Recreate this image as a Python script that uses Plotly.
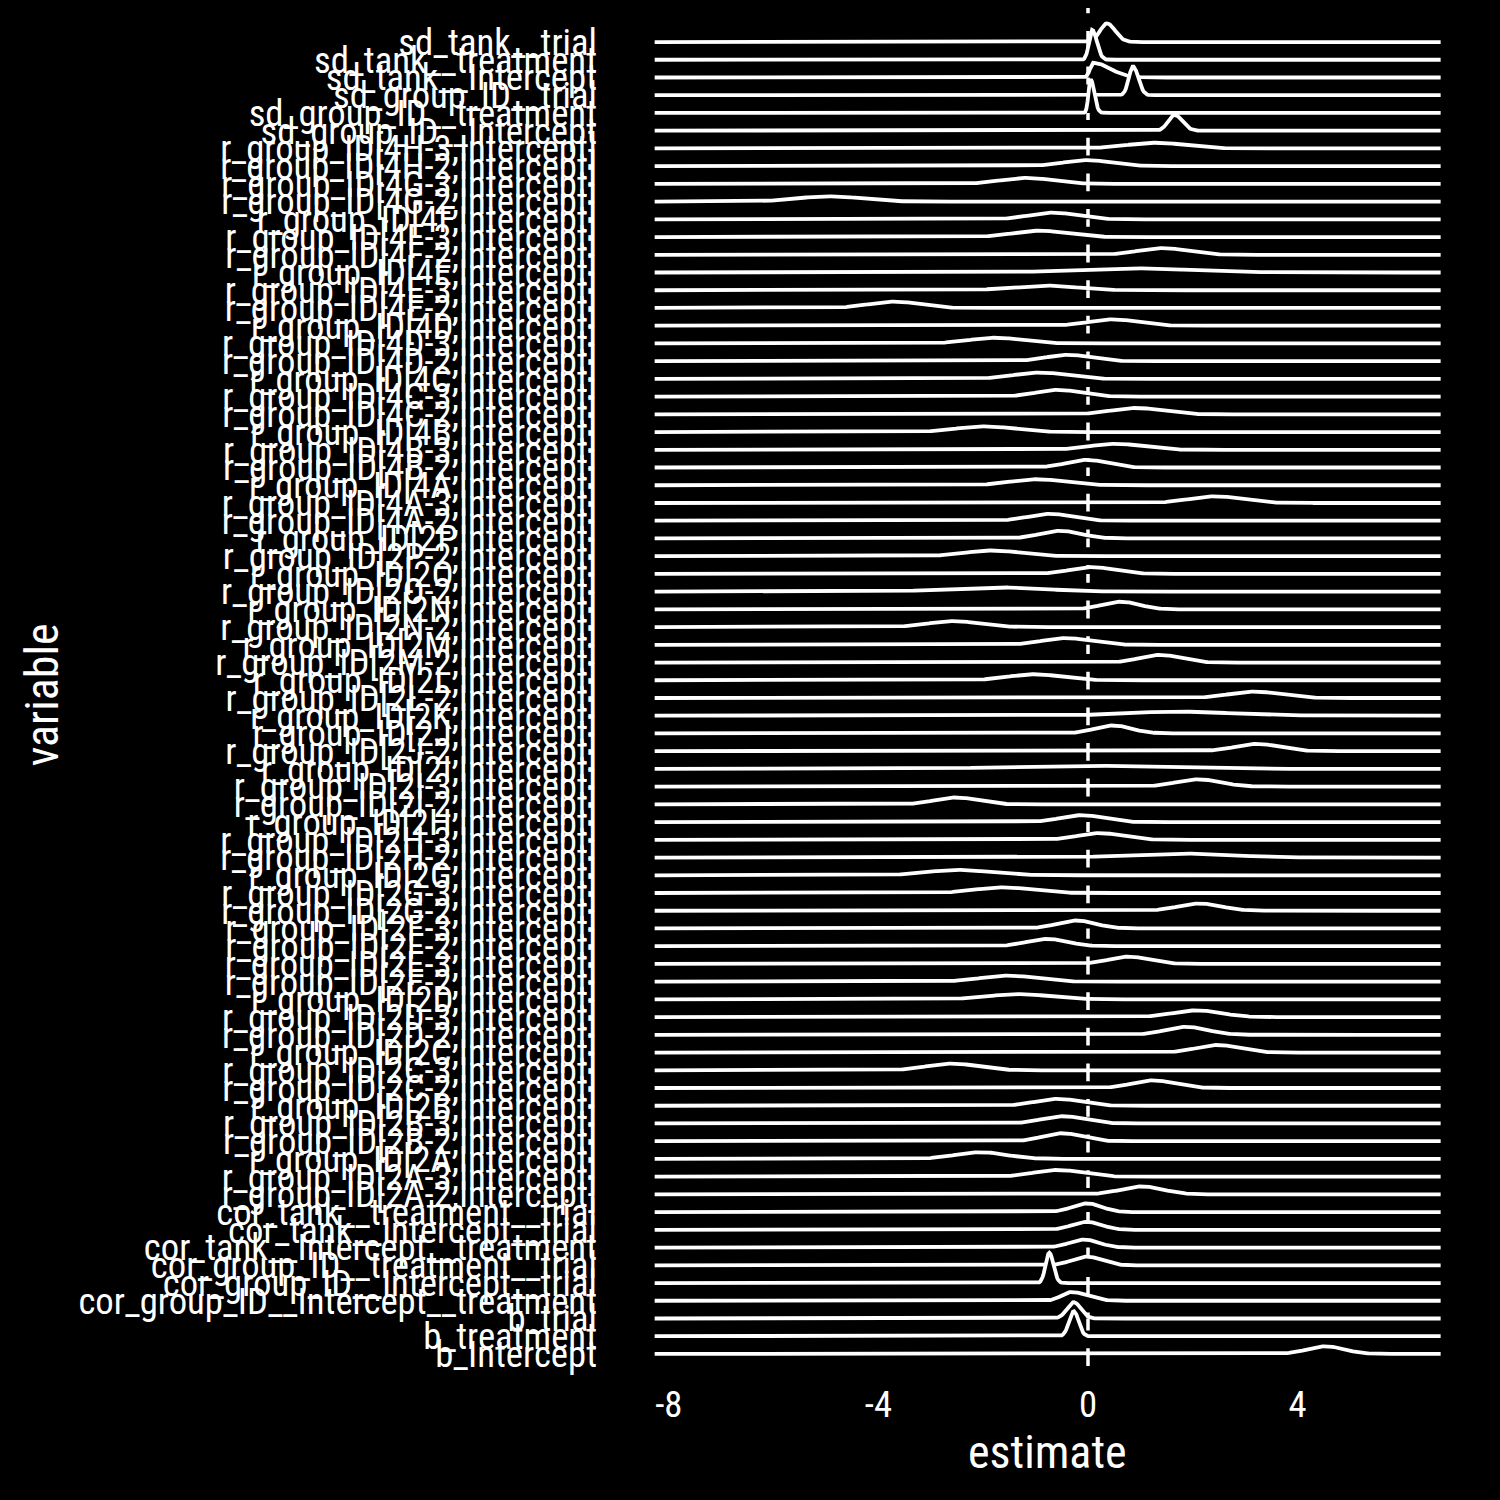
import numpy as np
import plotly.graph_objects as go

# ---- data (top row first) ----
variables = [
    "sd_tank__trial", "sd_tank__treatment", "sd_tank__Intercept",
    "sd_group_ID__trial", "sd_group_ID__treatment", "sd_group_ID__Intercept",
    "r_group_ID[4H-3,Intercept]", "r_group_ID[4H-2,Intercept]",
    "r_group_ID[4G-3,Intercept]", "r_group_ID[4G-2,Intercept]",
    "r_group_ID[4F,Intercept]", "r_group_ID[4F-3,Intercept]", "r_group_ID[4F-2,Intercept]",
    "r_group_ID[4E,Intercept]", "r_group_ID[4E-3,Intercept]", "r_group_ID[4E-2,Intercept]",
    "r_group_ID[4D,Intercept]", "r_group_ID[4D-3,Intercept]", "r_group_ID[4D-2,Intercept]",
    "r_group_ID[4C,Intercept]", "r_group_ID[4C-3,Intercept]", "r_group_ID[4C-2,Intercept]",
    "r_group_ID[4B,Intercept]", "r_group_ID[4B-3,Intercept]", "r_group_ID[4B-2,Intercept]",
    "r_group_ID[4A,Intercept]", "r_group_ID[4A-3,Intercept]", "r_group_ID[4A-2,Intercept]",
    "r_group_ID[2P,Intercept]", "r_group_ID[2P-2,Intercept]",
    "r_group_ID[2O,Intercept]", "r_group_ID[2O-2,Intercept]",
    "r_group_ID[2N,Intercept]", "r_group_ID[2N-2,Intercept]",
    "r_group_ID[2M,Intercept]", "r_group_ID[2M-2,Intercept]",
    "r_group_ID[2L,Intercept]", "r_group_ID[2L-2,Intercept]",
    "r_group_ID[2K,Intercept]",
    "r_group_ID[2J,Intercept]", "r_group_ID[2J-2,Intercept]",
    "r_group_ID[2I,Intercept]", "r_group_ID[2I-3,Intercept]", "r_group_ID[2I-2,Intercept]",
    "r_group_ID[2H,Intercept]", "r_group_ID[2H-3,Intercept]", "r_group_ID[2H-2,Intercept]",
    "r_group_ID[2G,Intercept]", "r_group_ID[2G-3,Intercept]", "r_group_ID[2G-2,Intercept]",
    "r_group_ID[2F-3,Intercept]", "r_group_ID[2F-2,Intercept]",
    "r_group_ID[2E-3,Intercept]", "r_group_ID[2E-2,Intercept]",
    "r_group_ID[2D,Intercept]", "r_group_ID[2D-3,Intercept]", "r_group_ID[2D-2,Intercept]",
    "r_group_ID[2C,Intercept]", "r_group_ID[2C-3,Intercept]", "r_group_ID[2C-2,Intercept]",
    "r_group_ID[2B,Intercept]", "r_group_ID[2B-3,Intercept]", "r_group_ID[2B-2,Intercept]",
    "r_group_ID[2A,Intercept]", "r_group_ID[2A-3,Intercept]", "r_group_ID[2A-2,Intercept]",
    "cor_tank__treatment__trial", "cor_tank__Intercept__trial", "cor_tank__Intercept__treatment",
    "cor_group_ID__treatment__trial", "cor_group_ID__Intercept__trial",
    "cor_group_ID__Intercept__treatment",
    "b_trial", "b_treatment", "b_Intercept",
]

# posterior mode of each variable
modes = [
    0.36, 0.08, 0.10, 0.86, 0.05, 1.65,
    1.30, -0.02, -1.17, -4.94,
    -0.67, -0.92, 1.43,
    0.83, -0.85, -3.70,
    0.48, -1.77, -0.37,
    -0.92, -0.57, 0.93,
    -1.97, 0.53, -0.02,
    -0.97, 2.43, -0.72,
    -0.52, -1.82,
    0.08, -1.77,
    0.63, -2.57,
    -0.42, 1.38,
    -1.02, 3.18,
    1.73,
    0.48, 3.23,
    -0.17, 2.11, -2.52,
    -0.12, 0.23, 1.73,
    -2.47, -1.62, 2.13,
    -0.22, -0.77,
    0.78, -1.52,
    -1.32, 2.08, 1.88,
    2.48, -2.59, 1.25,
    -0.57, -0.47, -0.49,
    -2.05, -0.57, 1.03,
    -0.02, -0.02, -0.07,
    -0.02, -0.74, -0.32,
    -0.27, -0.27, 4.54,
]

# spread of each posterior, left and right of the mode
sd_left = [
    0.13, 0.06, 0.06, 0.08, 0.04, 0.12,
    0.55, 0.45, 0.48, 0.60,
    0.44, 0.50, 0.46,
    1.10, 0.60, 0.47,
    0.45, 0.50, 0.42,
    0.50, 0.42, 0.48,
    0.55, 0.50, 0.38,
    0.50, 0.48, 0.40,
    0.38, 0.52,
    0.42, 0.90,
    0.35, 0.48,
    0.45, 0.38,
    0.50, 0.48,
    1.00,
    0.35, 0.42,
    1.30, 0.42, 0.40,
    0.40, 0.42, 0.95,
    0.60, 0.52, 0.40,
    0.36, 0.38,
    0.38, 0.52,
    0.58, 0.45, 0.40,
    0.40, 0.48, 0.40,
    0.42, 0.40, 0.36,
    0.48, 0.45, 0.40,
    0.28, 0.28, 0.28,
    0.28, 0.07, 0.18,
    0.13, 0.09, 0.35,
]
sd_right = [
    0.16, 0.09, 0.32, 0.10, 0.07, 0.15,
    0.55, 0.45, 0.48, 0.60,
    0.44, 0.50, 0.46,
    1.10, 0.60, 0.47,
    0.45, 0.50, 0.42,
    0.50, 0.42, 0.48,
    0.55, 0.50, 0.38,
    0.50, 0.48, 0.40,
    0.38, 0.52,
    0.42, 0.90,
    0.35, 0.48,
    0.45, 0.38,
    0.50, 0.48,
    1.00,
    0.35, 0.42,
    1.30, 0.42, 0.40,
    0.40, 0.42, 0.95,
    0.60, 0.52, 0.40,
    0.36, 0.38,
    0.38, 0.52,
    0.58, 0.45, 0.40,
    0.40, 0.48, 0.40,
    0.42, 0.40, 0.36,
    0.48, 0.45, 0.40,
    0.28, 0.28, 0.28,
    0.28, 0.08, 0.30,
    0.13, 0.09, 0.35,
]

# scaled peak density of each ridge (in units of row spacing)
peak = [
    1.05, 1.68, 0.83, 1.62, 1.90, 0.89,
    0.32, 0.34, 0.34, 0.30,
    0.38, 0.36, 0.38,
    0.24, 0.27, 0.36,
    0.36, 0.32, 0.36,
    0.36, 0.38, 0.36,
    0.32, 0.34, 0.43,
    0.34, 0.38, 0.39,
    0.43, 0.32,
    0.38, 0.24,
    0.43, 0.34,
    0.38, 0.43,
    0.34, 0.36,
    0.23,
    0.45, 0.41,
    0.19, 0.41, 0.39,
    0.39, 0.38, 0.23,
    0.30, 0.32, 0.41,
    0.45, 0.41,
    0.41, 0.34,
    0.30, 0.38, 0.45,
    0.43, 0.38, 0.43,
    0.39, 0.41, 0.45,
    0.38, 0.38, 0.45,
    0.49, 0.45, 0.45,
    0.49, 1.71, 0.49,
    0.92, 1.41, 0.43,
]

estimate_min, estimate_max = -8.27, 6.73
x_tickvals = [-8, -4, 0, 4]
x_ticktext = ["-8", "-4", "0", "4"]
ref_line = 0

# ---- figure ----
n = len(variables)
y_pos = [n - i for i in range(n)]
xs = np.linspace(estimate_min, estimate_max, 700)

FONT = "'Roboto Condensed', 'Liberation Sans Narrow', Roboto, sans-serif"
fig = go.Figure()

for i in range(n):
    base = y_pos[i]
    s = np.where(xs < modes[i], sd_left[i], sd_right[i])
    ridge = base + peak[i] * np.exp(-0.5 * ((xs - modes[i]) / s) ** 2)
    # black fill under the ridge (hides what lies behind it)
    fig.add_trace(go.Scatter(
        x=np.concatenate([xs, xs[::-1]]),
        y=np.concatenate([ridge, np.full(len(xs), base)]),
        mode="lines", fill="toself", fillcolor="black",
        line=dict(width=0, color="rgba(0,0,0,0)"),
        hoverinfo="skip", showlegend=False,
    ))
    # white outline of the ridge
    fig.add_trace(go.Scatter(
        x=xs, y=ridge, mode="lines",
        line=dict(color="white", width=3.8),
        hoverinfo="skip", showlegend=False,
    ))

y_lo, y_hi = 0.32, 76.92
fig.add_shape(type="line", x0=ref_line, x1=ref_line, y0=y_lo, y1=y_hi,
              xref="x", yref="y", layer="below",
              line=dict(color="white", width=3.5, dash="17.8px,17.8px"))

fig.update_layout(
    width=1500, height=1500,
    margin=dict(l=616, r=21, t=8, b=134),
    paper_bgcolor="black", plot_bgcolor="black",
    font=dict(family=FONT, color="white"),
    xaxis=dict(range=[-9.008, 7.462], tickvals=x_tickvals, ticktext=x_ticktext,
               showgrid=False, zeroline=False, showline=False, ticks="",
               tickfont=dict(size=36.7, color="white", family=FONT),
               ticklabelstandoff=13),
    yaxis=dict(range=[y_lo, y_hi], tickvals=y_pos, ticktext=variables,
               showgrid=False, zeroline=False, showline=False, ticks="",
               tickfont=dict(size=36.7, color="white", family=FONT),
               ticklabelstandoff=18),
    annotations=[
        dict(text="estimate", x=0.5, y=-0.0633, xref="paper", yref="paper",
             xanchor="center", yanchor="middle", showarrow=False,
             font=dict(size=46, color="white", family=FONT)),
        dict(text="variable", x=-0.665, y=0.494, xref="paper", yref="paper",
             xanchor="center", yanchor="middle", showarrow=False, textangle=-90,
             font=dict(size=46, color="white", family=FONT)),
    ],
)

fig.write_html("out.html")
